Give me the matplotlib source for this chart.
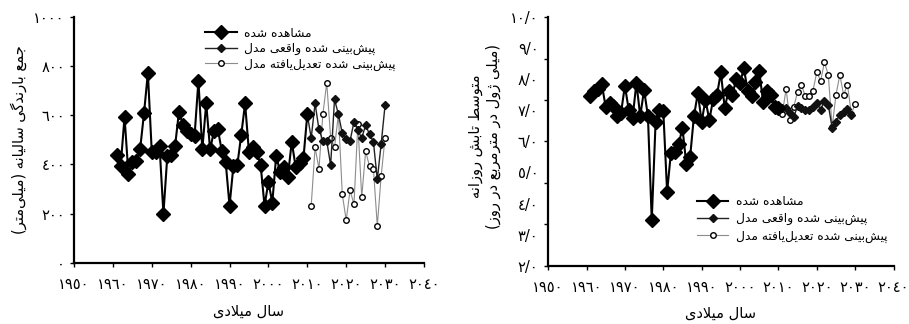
import numpy as np
import matplotlib
matplotlib.use("Agg")
import matplotlib.pyplot as plt

# ---- data ----
obs_years = list(range(1961, 2011))
rain_obs = [438, 394, 593, 360, 408, 413, 461, 607, 772, 451,
            449, 476, 199, 435, 437, 476, 614, 562, 535, 522,
            515, 740, 461, 648, 461, 535, 543, 455, 411, 232,
            394, 397, 519, 648, 449, 469, 451, 397, 232, 328,
            245, 435, 370, 390, 350, 492, 390, 404, 424, 603]
sun_obs = [7.47, 7.61, 7.68, 7.84, 7.10, 7.23, 7.14, 6.82, 6.93, 7.79,
           7.02, 6.75, 7.88, 6.82, 7.66, 6.82, 3.47, 6.62, 7.02, 6.99,
           4.38, 5.64, 5.65, 5.91, 6.43, 5.28, 5.51, 6.82, 7.55, 6.64,
           7.34, 6.69, 7.36, 7.50, 8.22, 7.09, 7.61, 7.50, 8.00, 7.88,
           8.36, 7.61, 7.45, 7.90, 8.28, 7.26, 7.61, 7.50, 7.12, 7.07]

fc_years = list(range(2011, 2031))
rain_model = [507, 648, 542, 496, 495, 397, 664, 604, 526, 504,
              496, 573, 538, 507, 560, 522, 492, 339, 484, 641]
rain_adj = [232, 469, 383, 604, 732, 509, 469, 604, 278, 173,
            295, 237, 564, 267, 453, 393, 383, 150, 354, 509]

sun_model_years = list(range(2011, 2030))
sun_model = [7.07, 7.06, 6.91, 6.78, 7.15, 7.07, 7.02, 7.02, 7.10, 7.25,
             7.02, 7.31, 7.18, 6.43, 6.64, 6.86, 6.96, 7.04, 6.86]
sun_adj = [6.89, 7.68, 6.69, 7.12, 7.59, 7.82, 7.45, 7.45, 7.63, 8.23,
           7.95, 8.55, 8.14, 6.46, 7.50, 8.14, 7.50, 7.82, 6.89, 7.21]

x_ticks = list(range(1950, 2041, 10))
rain_ticks = [0, 200, 400, 600, 800, 1000]
sun_ticks = [2, 3, 4, 5, 6, 7, 8, 9, 10]

# ---- minimal Persian shaping (matplotlib has no RTL / joining support) ----
FORMS = {
    'ا': ('\uFE8D', '\uFE8E', None, None),
    'ب': ('\uFE8F', '\uFE90', '\uFE91', '\uFE92'),
    'پ': ('\uFB56', '\uFB57', '\uFB58', '\uFB59'),
    'ت': ('\uFE95', '\uFE96', '\uFE97', '\uFE98'),
    'ج': ('\uFE9D', '\uFE9E', '\uFE9F', '\uFEA0'),
    'د': ('\uFEA9', '\uFEAA', None, None),
    'ر': ('\uFEAD', '\uFEAE', None, None),
    'ز': ('\uFEAF', '\uFEB0', None, None),
    'ژ': ('\uFB8A', '\uFB8B', None, None),
    'س': ('\uFEB1', '\uFEB2', '\uFEB3', '\uFEB4'),
    'ش': ('\uFEB5', '\uFEB6', '\uFEB7', '\uFEB8'),
    'ط': ('\uFEC1', '\uFEC2', '\uFEC3', '\uFEC4'),
    'ع': ('\uFEC9', '\uFECA', '\uFECB', '\uFECC'),
    'ف': ('\uFED1', '\uFED2', '\uFED3', '\uFED4'),
    'ق': ('\uFED5', '\uFED6', '\uFED7', '\uFED8'),
    'گ': ('\uFB92', '\uFB93', '\uFB94', '\uFB95'),
    'ل': ('\uFEDD', '\uFEDE', '\uFEDF', '\uFEE0'),
    'م': ('\uFEE1', '\uFEE2', '\uFEE3', '\uFEE4'),
    'ن': ('\uFEE5', '\uFEE6', '\uFEE7', '\uFEE8'),
    'ه': ('\uFEE9', '\uFEEA', '\uFEEB', '\uFEEC'),
    'و': ('\uFEED', '\uFEEE', None, None),
    'ی': ('\uFBFC', '\uFBFD', '\uFBFE', '\uFBFF'),
    '\uFEFB': ('\uFEFB', '\uFEFC', None, None),  # lam-alef
}


def fa(text):
    lines = []
    for line in text.split('\n'):
        chars = list(line.replace('لا', '\uFEFB'))
        out = []
        for i, c in enumerate(chars):
            if c not in FORMS:
                if c != '\u200c':
                    out.append(c)
                continue
            prev = chars[i - 1] if i > 0 else None
            nxt = chars[i + 1] if i + 1 < len(chars) else None
            jp = prev in FORMS and FORMS[prev][2] is not None
            jn = FORMS[c][2] is not None and nxt in FORMS
            iso, fin, ini, med = FORMS[c]
            out.append(med if (jp and jn) else fin if jp else ini if jn else iso)
        s = ''.join(reversed(out))
        s = s.replace('(', '\0').replace(')', '(').replace('\0', ')')
        lines.append(s)
    return '\n'.join(lines)


def fa_num(s):
    return str(s).translate(str.maketrans('0123456789', '٠١٢٣٤٥٦٧٨٩'))


plt.rcParams['font.family'] = ['DejaVu Sans']

lab_obs = fa('مشاهده شده')
lab_model = fa('پیش‌بینی شده واقعی مدل')
lab_adj = fa('پیش‌بینی شده تعدیل‌یافته مدل')

fig = plt.figure(figsize=(9.09, 3.24), dpi=100)
ax1 = fig.add_axes([0.0814, 0.189, 0.385, 0.759])
ax2 = fig.add_axes([0.603, 0.180, 0.380, 0.767])


def style(ax):
    for s in ['top', 'right']:
        ax.spines[s].set_visible(False)
    for s in ['left', 'bottom']:
        ax.spines[s].set_linewidth(1.6)
    ax.tick_params(direction='out', length=3, width=1, labelsize=10.5)
    ax.set_xlim(1950, 2040)
    ax.set_xticks(x_ticks)
    ax.set_xticklabels([fa_num(t) for t in x_ticks])
    ax.tick_params(axis='x', pad=7)


def draw(ax, obs, model_x, model, adj):
    # model line continues from the last observed point
    ax.plot([obs_years[-1]] + model_x, [obs[-1]] + model, color='#222222',
            lw=1.0, marker='D', ms=4.5, mfc='#111111', mec='#111111',
            label=lab_model, zorder=3)
    ax.plot(fc_years, adj, color='#8c8c8c', lw=0.8, marker='o', ms=4,
            mfc='white', mec='black', mew=1.0, label=lab_adj, zorder=2)
    ax.plot(obs_years, obs, color='black', lw=1.5, marker='D', ms=6.8,
            mfc='black', mec='black', label=lab_obs, zorder=4)


# ---- left: annual precipitation ----
style(ax1)
draw(ax1, rain_obs, fc_years, rain_model, rain_adj)
ax1.set_ylim(0, 1000)
ax1.set_yticks(rain_ticks)
ax1.set_yticklabels([fa_num(t) for t in rain_ticks])
ax1.set_ylabel(fa('جمع بارندگی سالیانه (میلی‌متر)'), fontsize=10.5)
ax1.yaxis.set_label_coords(-0.135, 0.5)
ax1.set_xlabel(fa('سال میلادی'), fontsize=10.5)
ax1.xaxis.set_label_coords(0.5, -0.165)
h, l = ax1.get_legend_handles_labels()
ax1.legend([h[2], h[0], h[1]], [l[2], l[0], l[1]], loc='upper left',
           bbox_to_anchor=(0.374, 0.96), frameon=False, fontsize=8.8,
           handlelength=2.6, handletextpad=0.6, labelspacing=0.2,
           borderpad=0, borderaxespad=0)

# ---- right: daily radiation ----
style(ax2)
draw(ax2, sun_obs, sun_model_years, sun_model, sun_adj)
ax2.set_ylim(2, 10)
# labels at whole numbers, tick marks at seven even steps (as in the original)
ax2.yaxis.remove_overlapping_locs = False
ax2.set_yticks(sun_ticks)
ax2.set_yticklabels([fa_num(f'{t}/0') for t in sun_ticks])
ax2.tick_params(axis='y', which='major', length=0, pad=7)
ax2.set_yticks(np.linspace(2, 10, 7), minor=True)
ax2.tick_params(axis='y', which='minor', direction='out', length=3, width=1)
ax2.set_ylabel(fa('متوسط تابش روزانه\n(میلی ژول در مترمربع در روز)'),
               fontsize=10.5, linespacing=1.3)
ax2.yaxis.set_label_coords(-0.135, 0.52)
ax2.set_xlabel(fa('سال میلادی'), fontsize=10.5)
ax2.xaxis.set_label_coords(0.5, -0.16)
h, l = ax2.get_legend_handles_labels()
ax2.legend([h[2], h[0], h[1]], [l[2], l[0], l[1]], loc='upper left',
           bbox_to_anchor=(0.43, 0.285), frameon=False, fontsize=8.8,
           handlelength=2.6, handletextpad=0.6, labelspacing=0.35,
           borderpad=0, borderaxespad=0)

fig.savefig('out.png', dpi=100)
